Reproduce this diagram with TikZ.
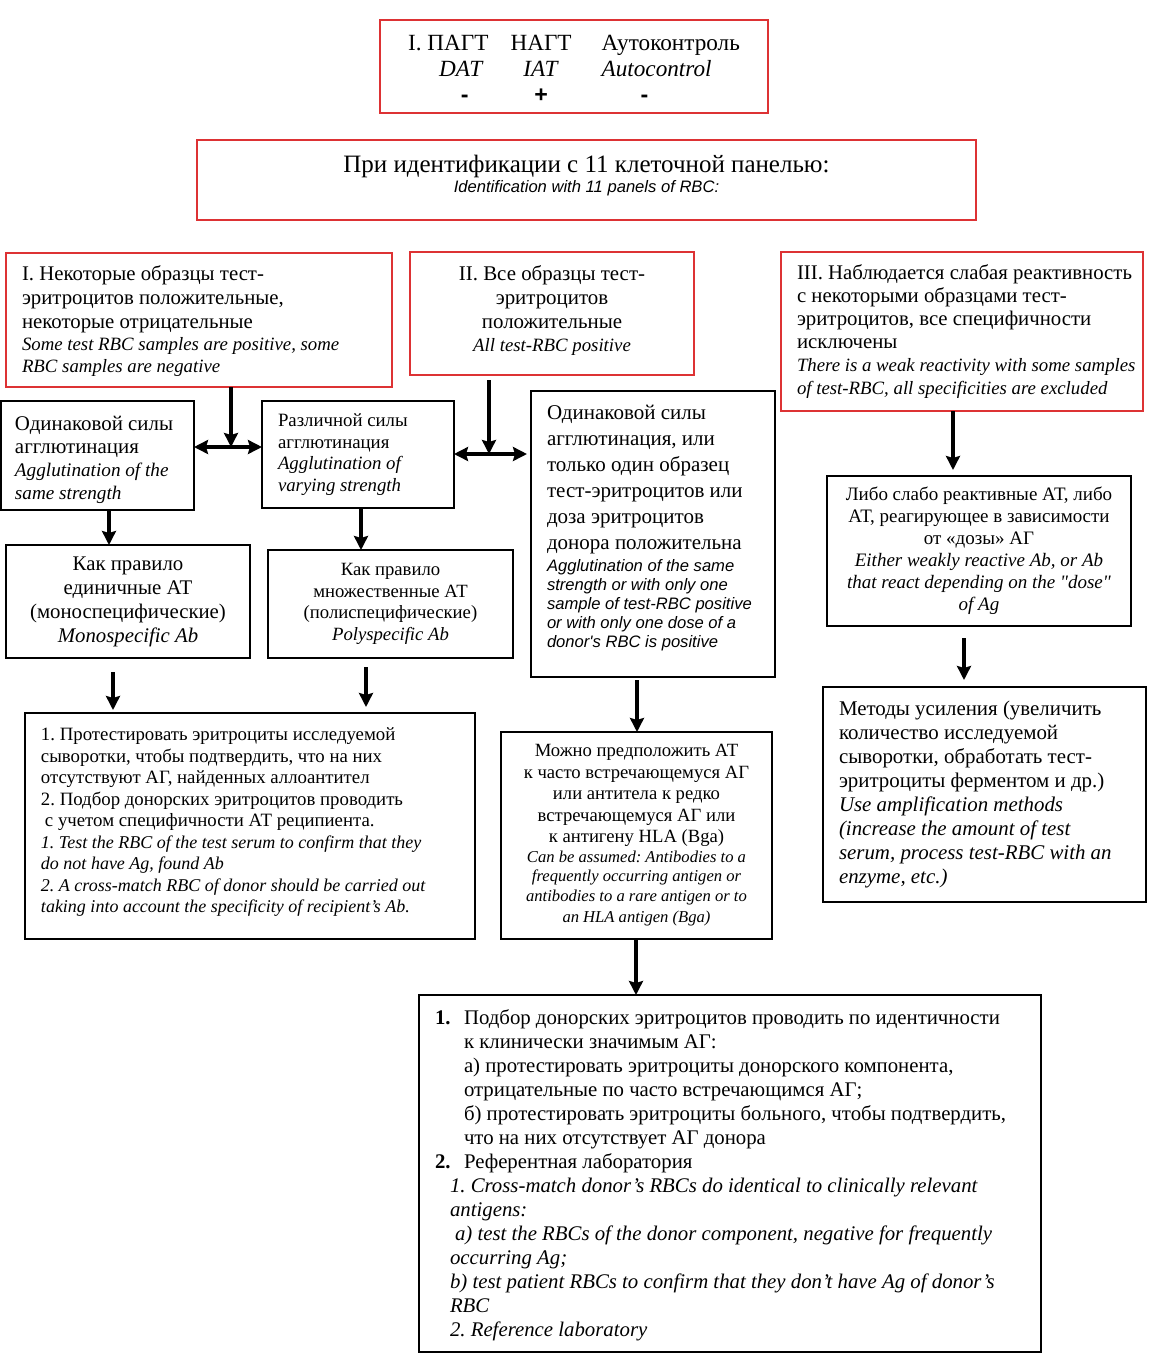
\documentclass[tikz,border=0pt]{standalone}
\usepackage{fontspec}
\setmainfont{Liberation Serif}[Ligatures=TeXOff]
\setsansfont{Liberation Sans}[Ligatures=TeXOff]
\usetikzlibrary{arrows.meta,calc,positioning}
\definecolor{boxred}{RGB}{221,50,52}
\newdimen\px
\px=0.5pt
\newcommand\fsz[2]{\fontsize{#1}{#2}\selectfont}
\frenchspacing
\tikzstyle{redbox}=[
  draw=boxred,
  line width=0.8pt,
  inner ysep=0pt,
  outer sep=0pt,
  rectangle,
]
\tikzstyle{blackbox}=[
  draw=black,
  line width=0.75pt,
  inner ysep=0pt,
  outer sep=0pt,
  rectangle,
]
\tikzstyle{midtext}=[
  align=flush center,
  inner xsep=3pt,
]
\tikzstyle{arrow}=[
  draw=black,
  line width=1.6pt,
]
\tikzset{
  lefttext/.style={align=flush left, inner xsep=0pt, execute at begin node={\leftskip=#1\relax}},
  >={Stealth[length=7pt,width=7pt,inset=1pt]},
}

\begin{document}
\begin{tikzpicture}[x=0.5pt, y=-0.5pt]
  \useasboundingbox (0,0) rectangle (1156,1361);
  %% head
  \node (panel) [redbox, midtext, text width=188pt, minimum height=93\px, font=\fsz{11.6}{13}] at (574,66.5)
    {\begin{tabular}{@{}r@{\hspace{11pt}}c@{\hspace{15pt}}l@{}}
      I.~ПАГТ & НАГТ & Аутоконтроль\\
      \textit{DAT}\hspace{2.5pt} & \textit{IAT} & \textit{Autocontrol}\\
      \sffamily\bfseries -\hspace{10pt} & \sffamily\bfseries + & \hspace{19.5pt}\sffamily\bfseries -
    \end{tabular}\par\kern-5pt};
  \node (ident) [redbox, midtext, text width=383.5pt, minimum height=80\px, font=\fsz{12.5}{14}] at (586.5,180)
    {При идентификации с 11 клеточной панелью:\par
     \sffamily\itshape\fsz{8.3}{10}Identification with 11 panels of RBC:\par\kern4pt};
  %% three cases
  \node (some) [redbox, lefttext=8pt, text width=193pt, minimum height=134\px, font=\fsz{10.4}{12}] at (199,320)
    {I. Некоторые образцы тест-\\эритроцитов положительные,\\некоторые отрицательные\par
     \itshape\fsz{9.4}{11.2}Some test RBC samples are positive, some\\RBC samples are negative\par\kern-1pt};
  \node (allpos) [redbox, midtext, text width=136pt, minimum height=123\px, font=\fsz{10.45}{12}] at (552,313.5)
    {II. Все образцы тест-\\эритроцитов\\положительные\par
     \itshape\fsz{9.4}{11.6}All test-RBC positive\par\kern3pt};
  \node (weak) [redbox, lefttext=8pt, text width=181pt, minimum height=159\px, font=\fsz{10.4}{11.6}] at (962,331.5)
    {III. Наблюдается слабая реактивность\\с некоторыми образцами тест-\\эритроцитов, все специфичности\\исключены\par
     \itshape\fsz{9.4}{11.2}There is a weak reactivity with some samples\\of test-RBC, all specificities are excluded};
  %% agglutination
  \node (same) [blackbox, lefttext=7pt, text width=96.5pt, minimum height=109\px, font=\fsz{10.45}{11.5}] at (97.5,455.5)
    {Одинаковой силы\\агглютинация\par
     \itshape\fsz{9.6}{11.5}Agglutination of the\\same strength\par\kern-4pt};
  \node (vary) [blackbox, lefttext=8pt, text width=96pt, minimum height=107\px, font=\fsz{9.4}{10.8}] at (358,454.5)
    {Различной силы\\агглютинация\\\textit{Agglutination of}\\\textit{varying strength}};
  \node (single) [blackbox, lefttext=8pt, text width=122pt, minimum height=286\px, font=\fsz{10.5}{13}] at (653,534)
    {Одинаковой силы\\агглютинация, или\\только один образец\\тест-эритроцитов или\\доза эритроцитов\\донора положительна\par\vspace*{1.5pt}
     \sffamily\itshape\fsz{8.3}{9.5}Agglutination of the same\\strength or with only one\\sample of test-RBC positive\\or with only one dose of a\\donor's RBC is positive\par\kern6pt};
  \node (either) [blackbox, midtext, text width=146pt, minimum height=150\px, font=\fsz{9.5}{11}] at (979,551)
    {Либо слабо реактивные АТ, либо\\АТ, реагирующее в зависимости\\от «дозы» АГ\\
     \textit{Either weakly reactive Ab, or Ab}\\\textit{that react depending on the "dose"}\\\textit{of Ag}};
  %% antibodies
  \node (mono) [blackbox, midtext, text width=116pt, minimum height=113\px, font=\fsz{10.4}{12}] at (128,601.5)
    {Как правило\\единичные АТ\\(моноспецифические)\\\textit{Monospecific Ab}};
  \node (poly) [blackbox, midtext, text width=116.5pt, minimum height=108\px, font=\fsz{9.35}{10.8}] at (390.5,604)
    {Как правило\\множественные АТ\\(полиспецифические)\\\textit{Polyspecific Ab}};
  %% actions
  \node (confirm) [blackbox, lefttext=8pt, text width=225pt, minimum height=226\px, font=\fsz{9.4}{10.75}] at (250,826)
    {1. Протестировать эритроциты исследуемой\\сыворотки, чтобы подтвердить, что на них\\отсутствуют АГ, найденных аллоантител\\
     2. Подбор донорских эритроцитов проводить\\\hspace*{2pt}с учетом специфичности АТ реципиента.\par
     \itshape\fsz{9}{10.75}1. Test the RBC of the test serum to confirm that they\\do not have Ag, found Ab\\
     2. A cross-match RBC of donor should be carried out\\taking into account the specificity of recipient’s Ab.\par\kern4pt};
  \node (assume) [blackbox, midtext, text width=129.5pt, minimum height=207\px, font=\fsz{9.33}{10.75}] at (636.5,835.5)
    {Можно предположить АТ\\к часто встречающемуся АГ\\или антитела к редко\\встречающемуся АГ или\\к антигену HLA (Bga)\par
     \itshape\fsz{8.3}{9.75}Can be assumed: Antibodies to a\\frequently occurring antigen or\\antibodies to a rare antigen or to\\an HLA antigen (Bga)};
  \node (amplify) [blackbox, lefttext=8pt, text width=161.5pt, minimum height=215\px, font=\fsz{10.45}{12}] at (984.5,794.5)
    {Методы усиления (увеличить\\количество исследуемой\\сыворотки, обработать тест-\\эритроциты ферментом и др.)\par
     \itshape Use amplification methods\\(increase the amount of test\\serum, process test-RBC with an\\enzyme, etc.)};
  \node (select) [blackbox, lefttext=8pt, text width=311pt, minimum height=357\px, font=\fsz{10.4}{12}] at (730,1173.5)
    {\makebox[14.5pt][l]{\textbf{1.}}Подбор донорских эритроцитов проводить по идентичности\\
     \hspace*{14.5pt}к клинически значимым АГ:\\
     \hspace*{14.5pt}а) протестировать эритроциты донорского компонента,\\
     \hspace*{14.5pt}отрицательные по часто встречающимся АГ;\\
     \hspace*{14.5pt}б) протестировать эритроциты больного, чтобы подтвердить,\\
     \hspace*{14.5pt}что на них отсутствует АГ донора\\
     \makebox[14.5pt][l]{\textbf{2.}}Референтная лаборатория\par
     \itshape\hspace*{7.5pt}1. Cross-match donor’s RBCs do identical to clinically relevant\\
     \hspace*{7.5pt}antigens:\\
     \hspace*{10pt}a) test the RBCs of the donor component, negative for frequently\\
     \hspace*{7.5pt}occurring Ag;\\
     \hspace*{7.5pt}b) test patient RBCs to confirm that they don’t have Ag of donor’s\\
     \hspace*{7.5pt}RBC\\
     \hspace*{7.5pt}2. Reference laboratory\par\kern-2pt};
  %% connectors
  \coordinate (jI) at (231,447);
  \coordinate (jII) at (489,454);
  \draw [->, arrow] (some.south -| jI) -- (jI);
  \draw [<->, arrow] (same.east |- jI) -- (vary.west |- jI);
  \draw [->, arrow, shorten <=2.5pt] (allpos.south -| jII) -- (jII);
  \draw [<->, arrow, shorten >=2pt] (vary.east |- jII) -- (single.west |- jII);
  \draw [->, arrow, shorten >=3pt] ($(weak.south)+(-9,0)$) -- ($(either.north)+(-26,0)$);
  \draw [->, arrow] ($(same.south)+(11.5,0)$) -- ($(mono.north)+(-19,0)$);
  \draw [->, arrow] ($(vary.south)+(3,0)$) -- ($(poly.north)+(-29.5,0)$);
  \draw [->, arrow, shorten <=7pt, shorten >=1.5pt] ($(mono.south)+(-15,0)$) -- ($(confirm.north)+(-137,0)$);
  \draw [->, arrow, shorten <=4.5pt, shorten >=3pt] ($(poly.south)+(-24.5,0)$) -- ($(confirm.north)+(116,0)$);
  \draw [->, arrow, shorten <=1.5pt] ($(single.south)+(-16,0)$) -- ($(assume.north)+(0.5,0)$);
  \draw [->, arrow, shorten <=6pt, shorten >=3.5pt] ($(either.south)+(-15,0)$) -- ($(amplify.north)+(-20.5,0)$);
  \draw [->, arrow] ($(assume.south)+(-0.5,0)$) -- ($(select.north)+(-94,0)$);
\end{tikzpicture}
\end{document}
